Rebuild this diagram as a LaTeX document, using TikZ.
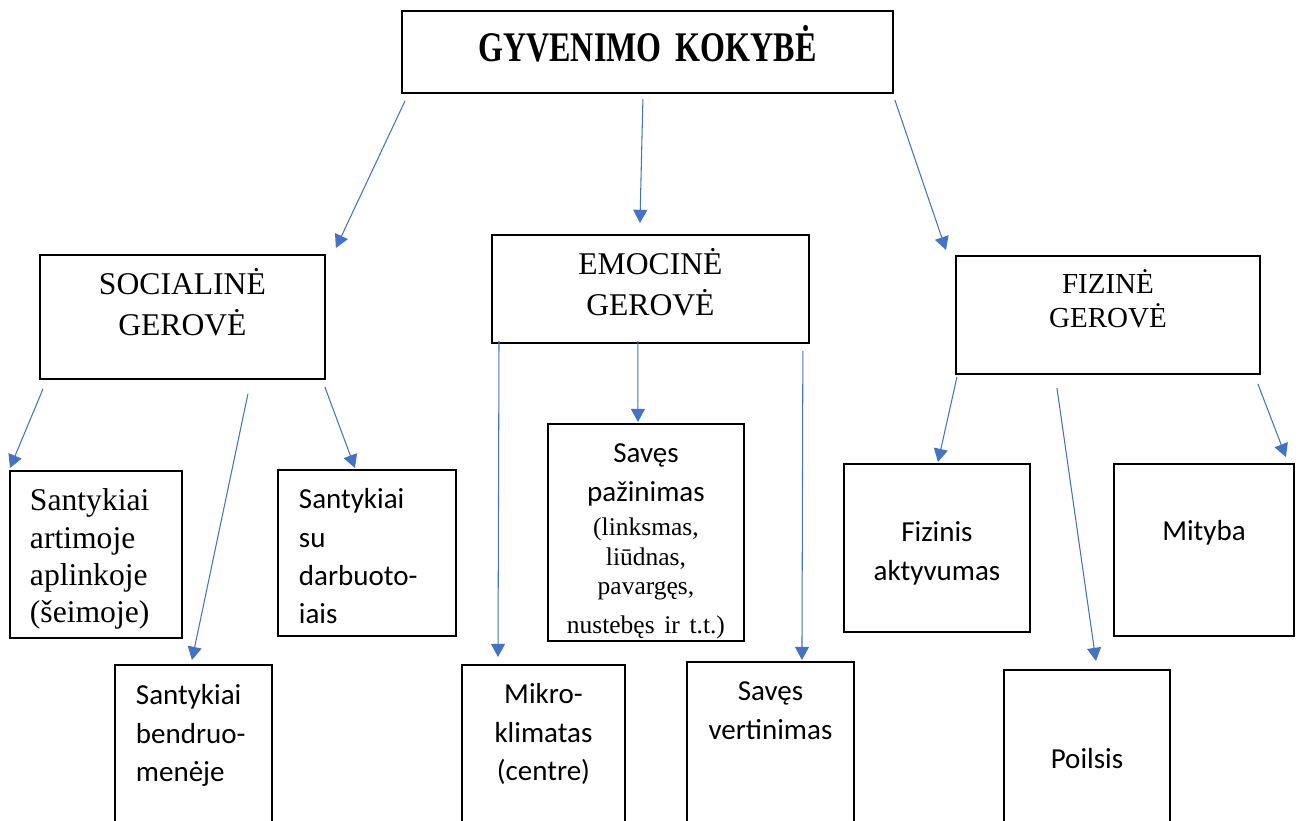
\documentclass[tikz,border=0pt]{standalone}
\usepackage{fontspec}
\setmainfont{Liberation Serif}
\newfontfamily\calibri{Carlito}
\usetikzlibrary{arrows.meta,positioning}
\definecolor{wordblue}{RGB}{68,114,196}
\tikzstyle{recNode} = [rectangle, draw=black, line width=1.1pt, inner sep=0pt, anchor=north west, text centered]
\tikzstyle{recNodeL} = [recNode, align=left, inner xsep=0.42cm]
\tikzstyle{headNode} = [recNode, font=\fontsize{18}{23}\selectfont]
\tikzstyle{leafNode} = [recNode, font=\calibri\fontsize{16.5}{21.8}\selectfont]
\tikzstyle{leafNodeL} = [recNodeL, font=\calibri\fontsize{16.5}{21.8}\selectfont]
\tikzstyle{arrowB} = [->, >={Triangle[length=7.5pt,width=8pt]}, line width=0.6pt, draw=wordblue]

\begin{document}
\begin{tikzpicture}[x=0.02cm, y=-0.02cm]
    \useasboundingbox (0,0) rectangle (1299,821);
    \clip (0,0) rectangle (1299,821);

    \node (top) [recNode, text width=9.82cm, text height=1.02cm, text depth=0.62cm] at (401,10) {\scalebox{0.76}[1]{\fontsize{24}{28}\selectfont\bfseries GYVENIMO\hspace{0.3em} KOKYBĖ}};

    \node (soc) [headNode, text width=5.7cm, text height=0.8cm, text depth=1.68cm] at (39,254) {SOCIALINĖ\\GEROVĖ};
    \node (emo) [headNode, text width=6.34cm, text height=0.8cm, text depth=1.36cm] at (491,234) {EMOCINĖ\\GEROVĖ};
    \node (fiz) [headNode, font=\fontsize{16.5}{19.3}\selectfont, text width=6.08cm, text height=0.76cm, text depth=1.6cm] at (955,255) {FIZINĖ\\GEROVĖ};

    \node (art) [recNodeL, font=\fontsize{18}{21.2}\selectfont, inner xsep=0.4cm, text width=2.64cm, text height=0.8cm, text depth=2.54cm] at (9,470) {Santykiai\\artimoje\\aplinkoje\\(šeimoje)};
    \node (darb) [leafNodeL, text width=2.72cm, text height=0.78cm, text depth=2.54cm] at (277,469) {Santykiai\\su\\darbuoto-\\iais};
    \node (bend) [leafNodeL, text width=2.3cm, text height=0.8cm, text depth=2.82cm] at (114,664) {Santykiai\\bendruo-\\menėje};

    \node (pazin) [leafNode, text width=3.92cm, text height=0.78cm, text depth=3.56cm] at (547,423) {Savęs\\pažinimas\\[2.3pt]\rmfamily\fontsize{14.5}{17}\selectfont (linksmas,\\liūdnas,\\pavargęs,\\\mbox{nustebęs ir t.t.)}};
    \node (mikro) [leafNode, text width=3.26cm, text height=0.78cm, text depth=2.84cm] at (461,664) {Mikro-\\klimatas\\(centre)};
    \node (vert) [leafNode, text width=3.34cm, text height=0.78cm, text depth=2.9cm] at (686,661) {Savęs\\vertinimas};

    \node (akt) [leafNode, text width=3.72cm, text height=1.56cm, text depth=1.8cm] at (843,463) {Fizinis\\aktyvumas};
    \node (mit) [leafNode, text width=3.6cm, text height=1.54cm, text depth=1.9cm] at (1113,463) {Mityba};
    \node (poil) [leafNode, text width=3.32cm, text height=1.98cm, text depth=1.6cm] at (1003,669) {Poilsis};

    \draw [arrowB] ([shift={(4,7)}]top.south west) -- ([shift={(10,-6)}]soc.north east);
    \draw [arrowB] ([shift={(-4.5,5)}]top.south) -- ([shift={(-10.5,-11)}]emo.north);
    \draw [arrowB] ([shift={(1,6)}]top.south east) -- ([shift={(-9,-5)}]fiz.north west);

    \draw [arrowB] ([shift={(4,9)}]soc.south west) -- ([shift={(1,-2)}]art.north west);
    \draw [arrowB] ([shift={(65.5,14)}]soc.south) -- ([shift={(-1.5,-4)}]bend.north);
    \draw [arrowB] ([shift={(-1,7)}]soc.south east) -- ([shift={(-12,-1)}]darb.north);

    \draw [arrowB] ([shift={(8,-3)}]emo.south west) -- ([shift={(37,-7)}]mikro.north west);
    \draw [arrowB] ([shift={(-12.5,-3)}]emo.south) -- ([shift={(-8,-1)}]pazin.north);
    \draw [arrowB] ([shift={(-7,7)}]emo.south east) -- ([shift={(31.5,-1)}]vert.north);

    \draw [arrowB] ([shift={(2,2)}]fiz.south west) -- ([shift={(1,-1)}]akt.north);
    \draw [arrowB] ([shift={(-51,13)}]fiz.south) -- ([shift={(9,-8)}]poil.north);
    \draw [arrowB] ([shift={(-3,9)}]fiz.south east) -- ([shift={(-9,-6)}]mit.north east);
\end{tikzpicture}
\end{document}
